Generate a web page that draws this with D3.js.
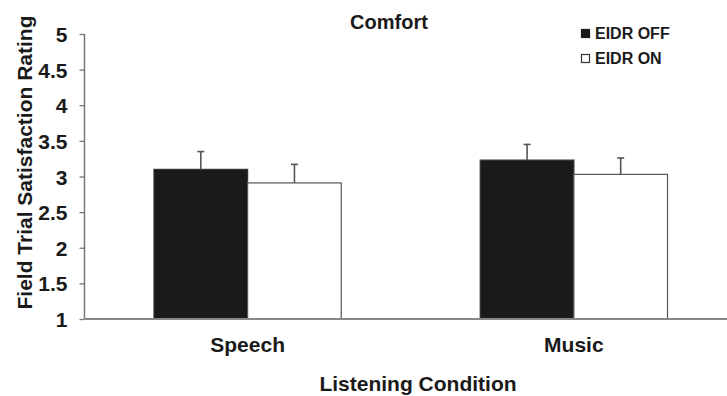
<!DOCTYPE html>
<html>
<head>
<meta charset="utf-8">
<script src="https://cdn.jsdelivr.net/npm/d3@7"></script>
<style>
  html, body { margin: 0; padding: 0; background: #fff; }
  svg { display: block; }
  text { font-family: "Liberation Sans", Arial, sans-serif; font-weight: bold; fill: #1a1a1a; }
</style>
</head>
<body>
<svg id="chart" width="727" height="396"></svg>
<script>
// Mean comfort ratings per listening condition, with standard-error bars
const categories = ["Speech", "Music"];
const seriesNames = ["EIDR OFF", "EIDR ON"];
const offValues = [3.10, 3.23];
const onValues = [2.91, 3.03];
const offErrors = [0.25, 0.22];
const onErrors = [0.26, 0.23];
const yTicks = [1, 1.5, 2, 2.5, 3, 3.5, 4, 4.5, 5];

const seriesValues = [offValues, onValues];
const seriesErrors = [offErrors, onErrors];
const seriesFill = ["#1a1a1a", "#ffffff"];
const seriesStroke = ["#333333", "#555555"];

const svg = d3.select("#chart");
const plotLeft = 84.5, plotRight = 737, plotTop = 34, plotBottom = 319;

const x0 = d3.scaleBand().domain(categories).range([plotLeft, plotRight])
  .paddingInner(0.426).paddingOuter(0.213);
const x1 = d3.scaleBand().domain(seriesNames).range([0, x0.bandwidth()]).padding(0);
const y = d3.scaleLinear().domain([1, 5]).range([plotBottom, plotTop]);

// Bars
categories.forEach((cat, ci) => {
  seriesNames.forEach((s, si) => {
    const v = seriesValues[si][ci];
    const bx = x0(cat) + x1(s);
    svg.append("rect")
      .attr("x", bx).attr("y", y(v))
      .attr("width", x1.bandwidth()).attr("height", y(1) - y(v))
      .attr("fill", seriesFill[si])
      .attr("stroke", seriesStroke[si]).attr("stroke-width", 1.2);
  });
});

// Error bars (upper half only)
categories.forEach((cat, ci) => {
  seriesNames.forEach((s, si) => {
    const v = seriesValues[si][ci];
    const e = seriesErrors[si][ci];
    const cx = x0(cat) + x1(s) + x1.bandwidth() / 2;
    svg.append("line")
      .attr("x1", cx).attr("x2", cx).attr("y1", y(v)).attr("y2", y(v + e))
      .attr("stroke", "#555").attr("stroke-width", 1.6);
    svg.append("line")
      .attr("x1", cx - 3.5).attr("x2", cx + 3.5).attr("y1", y(v + e)).attr("y2", y(v + e))
      .attr("stroke", "#555").attr("stroke-width", 1.6);
  });
});

// Y axis
const yAxis = svg.append("g").attr("transform", `translate(${plotLeft},0)`)
  .call(d3.axisLeft(y).tickValues(yTicks).tickSize(5).tickPadding(12).tickFormat(d3.format("")));
yAxis.select(".domain").attr("stroke", "#777").attr("stroke-width", 1.5)
  .attr("d", `M0,${plotTop}V${plotBottom}`);
yAxis.selectAll(".tick line").attr("stroke", "#777").attr("stroke-width", 1.3);
yAxis.selectAll(".tick text").attr("font-size", 21).attr("dy", "0.36em")
  .style("font-family", "'Liberation Sans', Arial, sans-serif").style("font-weight", "bold").attr("fill", "#1a1a1a");

// X axis baseline
svg.append("line")
  .attr("x1", plotLeft).attr("x2", 727).attr("y1", plotBottom).attr("y2", plotBottom)
  .attr("stroke", "#888").attr("stroke-width", 1.8);

// Category labels
svg.selectAll(".cat").data(categories).enter().append("text")
  .attr("x", d => x0(d) + x0.bandwidth() / 2).attr("y", 352)
  .attr("text-anchor", "middle").attr("font-size", 21).text(d => d);

// Titles
svg.append("text").attr("x", 418).attr("y", 391)
  .attr("text-anchor", "middle").attr("font-size", 21).text("Listening Condition");
svg.append("text").attr("x", 389).attr("y", 28.5)
  .attr("text-anchor", "middle").attr("font-size", 20).text("Comfort");
svg.append("text")
  .attr("transform", "translate(32,162.5) rotate(-90)")
  .attr("text-anchor", "middle").attr("font-size", 21).text("Field Trial Satisfaction Rating");

// Legend
const legend = svg.append("g");
seriesNames.forEach((s, i) => {
  const ly = 39 + i * 25;
  legend.append("rect").attr("x", 581.5).attr("y", ly - 9.5).attr("width", 8).attr("height", 8)
    .attr("fill", seriesFill[i]).attr("stroke", i === 0 ? "#1a1a1a" : "#333").attr("stroke-width", 1.2);
  legend.append("text").attr("x", 595).attr("y", ly).attr("font-size", 16).text(s);
});
</script>
</body>
</html>
